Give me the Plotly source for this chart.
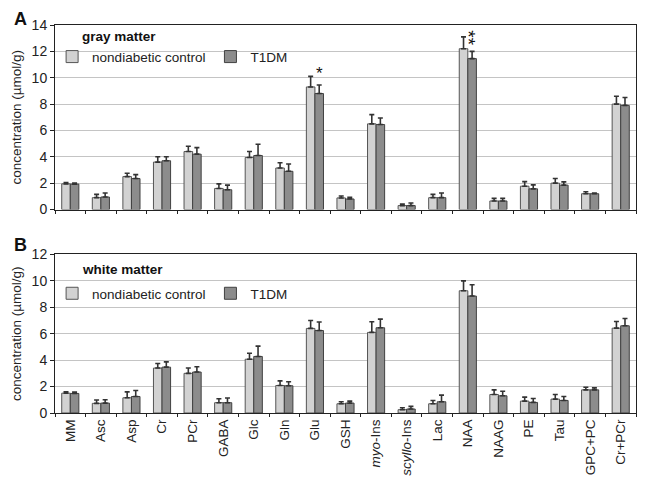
import plotly.graph_objects as go
from plotly.subplots import make_subplots

categories = ["MM", "Asc", "Asp", "Cr", "PCr", "GABA", "Glc", "Gln", "Glu", "GSH",
              "myo-Ins", "scyllo-Ins", "Lac", "NAA", "NAAG", "PE", "Tau", "GPC+PC", "Cr+PCr"]
tick_labels = ["MM", "Asc", "Asp", "Cr", "PCr", "GABA", "Glc", "Gln", "Glu", "GSH",
               "<i>myo</i>-Ins", "<i>scyllo</i>-Ins", "Lac", "NAA", "NAAG", "PE", "Tau", "GPC+PC", "Cr+PCr"]

# Gray matter (panel A)
gm_control = [1.95, 0.90, 2.50, 3.60, 4.40, 1.60, 3.95, 3.15, 9.30, 0.88,
              6.50, 0.30, 0.90, 12.20, 0.65, 1.77, 2.00, 1.20, 8.00]
gm_control_err = [0.10, 0.25, 0.25, 0.40, 0.40, 0.35, 0.45, 0.40, 0.80, 0.15,
                  0.70, 0.12, 0.25, 0.90, 0.20, 0.35, 0.35, 0.15, 0.60]
gm_t1dm = [1.93, 0.95, 2.35, 3.70, 4.20, 1.50, 4.10, 2.90, 8.80, 0.80,
           6.45, 0.30, 0.90, 11.45, 0.65, 1.57, 1.85, 1.20, 7.90]
gm_t1dm_err = [0.08, 0.30, 0.30, 0.30, 0.50, 0.35, 0.85, 0.55, 0.65, 0.12,
               0.50, 0.20, 0.35, 0.55, 0.20, 0.30, 0.25, 0.05, 0.60]

# White matter (panel B)
wm_control = [1.50, 0.73, 1.15, 3.40, 3.00, 0.78, 4.07, 2.08, 6.40, 0.70,
              6.10, 0.25, 0.70, 9.25, 1.40, 0.90, 1.05, 1.75, 6.42]
wm_control_err = [0.10, 0.25, 0.45, 0.35, 0.40, 0.30, 0.45, 0.35, 0.60, 0.15,
                  0.80, 0.15, 0.25, 0.75, 0.35, 0.30, 0.35, 0.20, 0.50]
wm_t1dm = [1.48, 0.75, 1.25, 3.47, 3.10, 0.78, 4.28, 2.06, 6.24, 0.75,
           6.45, 0.30, 0.85, 8.85, 1.30, 0.80, 0.95, 1.75, 6.60]
wm_t1dm_err = [0.10, 0.25, 0.45, 0.40, 0.40, 0.35, 0.78, 0.30, 0.65, 0.15,
               0.65, 0.20, 0.50, 0.85, 0.35, 0.30, 0.30, 0.15, 0.55]

series_names = ["nondiabetic control", "T1DM"]
fill_colors = ["#d2d2d2", "#8c8c8c"]
line_colors = ["#555555", "#404040"]

FONT = "Liberation Sans, Arial, sans-serif"

fig = make_subplots(rows=2, cols=1, shared_xaxes=False, vertical_spacing=0.1)

panels = [
    (1, gm_control, gm_control_err, gm_t1dm, gm_t1dm_err, "legend"),
    (2, wm_control, wm_control_err, wm_t1dm, wm_t1dm_err, "legend2"),
]
for row, c, ce, t, te, leg in panels:
    for i, (vals, errs) in enumerate([(c, ce), (t, te)]):
        fig.add_trace(go.Bar(
            x=categories, y=vals, name=series_names[i],
            marker=dict(color=fill_colors[i], line=dict(color=line_colors[i], width=1)),
            error_y=dict(type="data", symmetric=False, array=errs,
                         arrayminus=[0] * len(errs), color="#333333",
                         thickness=1.6, width=2.5),
            legend=leg, showlegend=True,
        ), row=row, col=1)

# page body adds an 8px offset, so the figure is 8px smaller than the window
fig.update_layout(
    width=637, height=476,
    margin=dict(l=42, r=8, t=17, b=70),
    paper_bgcolor="white", plot_bgcolor="white",
    barmode="group", bargap=0.44, bargroupgap=0.0,
    font=dict(family=FONT, size=13, color="#222222"),
    showlegend=True,
    legend=dict(orientation="h", x=-0.005, y=0.918, xanchor="left", yanchor="middle",
                bgcolor="rgba(0,0,0,0)", font=dict(size=13.5, family=FONT),
                itemwidth=30, tracegroupgap=0),
    legend2=dict(orientation="h", x=-0.005, y=0.308, xanchor="left", yanchor="middle",
                 bgcolor="rgba(0,0,0,0)", font=dict(size=13.5, family=FONT),
                 itemwidth=30, tracegroupgap=0),
)

fig.update_yaxes(domain=[0.5244, 1.0], row=1, col=1)
fig.update_yaxes(domain=[0.0, 0.4087], row=2, col=1)

common_x = dict(
    categoryorder="array", categoryarray=categories,
    showline=True, linecolor="#222222", linewidth=1, mirror=True,
    ticks="outside", ticklen=3, tickcolor="#222222", tickson="boundaries",
    showgrid=False,
)
fig.update_xaxes(**common_x, showticklabels=False, row=1, col=1)
fig.update_xaxes(**common_x, showticklabels=True, tickangle=-90,
                 tickvals=categories, ticktext=tick_labels,
                 tickfont=dict(size=13.5, family=FONT), row=2, col=1)

common_y = dict(
    showline=True, linecolor="#222222", linewidth=1, mirror=True,
    ticks="outside", ticklen=4, tickcolor="#222222", dtick=2,
    showgrid=True, gridcolor="#c4c4c4", gridwidth=1, zeroline=False,
    tickfont=dict(size=14, family=FONT),
    title=dict(text="concentration (µmol/g)", font=dict(size=13.5, family=FONT), standoff=6),
)
fig.update_yaxes(**common_y, range=[0, 14], row=1, col=1)
fig.update_yaxes(**common_y, range=[0, 12], row=2, col=1)

annotations = [
    dict(text="<b>A</b>", xref="paper", yref="paper", x=-0.0596, y=1.0437, xanchor="center",
         yanchor="top", borderpad=0, showarrow=False, font=dict(size=18, family=FONT, color="#111")),
    dict(text="<b>B</b>", xref="paper", yref="paper", x=-0.0596, y=0.434, xanchor="center",
         yanchor="middle", showarrow=False, font=dict(size=18, family=FONT, color="#111")),
    dict(text="<b>gray matter</b>", xref="paper", yref="paper", x=0.043, y=0.97,
         xanchor="left", yanchor="middle", showarrow=False, font=dict(size=13.5, family=FONT, color="#111")),
    dict(text="<b>white matter</b>", xref="paper", yref="paper", x=0.043, y=0.37,
         xanchor="left", yanchor="middle", showarrow=False, font=dict(size=13.5, family=FONT, color="#111")),
    dict(text="*", xref="x", yref="y", x="Glu", y=10.3, xshift=5, showarrow=False,
         font=dict(size=17, family=FONT, color="#111")),
    dict(text="**", xref="x", yref="y", x="NAA", y=13.0, xshift=1, textangle=90, showarrow=False,
         font=dict(size=19, family=FONT, color="#111")),
]
fig.update_layout(annotations=annotations)

fig.write_html("out.html")
